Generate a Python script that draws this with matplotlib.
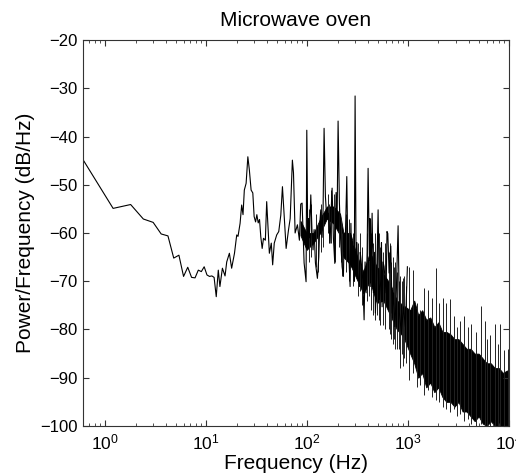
"""
Microwave oven - power spectral density (Welch PSD style plot, MATLAB look).
Saves out.png (516x474 px).
"""
import matplotlib
matplotlib.use("Agg")
import matplotlib.pyplot as plt

# ---------------------------------------------------------------
# data
# ---------------------------------------------------------------
# main trace, 0.6 Hz .. ~1 kHz
freq_hz = [
    0.60, 1.20, 1.79, 2.39, 2.99, 3.59, 4.19, 4.78, 5.38, 5.98,
    6.58, 7.18, 7.77, 8.37, 8.97, 9.57, 10.2, 10.8, 11.4, 12.0,
    12.6, 13.2, 13.7, 14.5, 15.4, 16.0, 17.0, 17.9, 19.1, 20.1,
    20.7, 21.7, 22.5, 23.2, 23.9, 24.9, 25.9, 26.8, 27.9, 29.0,
    29.9, 30.9, 31.8, 32.8, 33.8, 34.8, 35.9, 37.0, 38.6, 39.8,
    41.0, 42.3, 44.2, 45.6, 47.3, 50.0, 52.4, 54.9, 57.0, 59.3,
    62.0, 65.4, 68.0, 71.5, 73.3, 76.1, 80.2, 83.9, 86.5, 89.2,
    93.4, 97.7, 99.3, 101.6, 103.5, 105.4, 108.8, 112.1, 114.5, 117.3,
    120.9, 126.5, 130.6, 133.5, 136.6, 140.8, 144.0, 147.3, 151.8, 156.7,
    162.5, 168.9, 172.5, 176.8, 182.1, 188.0, 193.7, 198.0, 202.7, 208.9,
    215.6, 222.1, 228.8, 233.0, 237.8, 247.2, 251.5, 256.4, 266.6, 271.5,
    277.1, 287.3, 293.0, 298.7, 305.6, 311.5, 317.7, 329.5, 336.0, 342.5,
    356.0, 366.8, 375.0, 383.9, 393.0, 401.8, 413.9, 419.0, 427.3, 440.2,
    453.4, 464.0, 474.6, 489.9, 504.7, 519.8, 536.7, 545.0, 552.9, 565.0,
    578.7, 605.7, 618.0, 629.6, 648.6, 674.3, 694.6, 715.5, 738.6, 760.8,
    796.2, 820.2, 858.5, 898.5, 940.4, 984.2,
]
psd_db = [
    -44.7, -54.9, -54.1, -57.1, -57.8, -60.2, -60.6, -65.2, -64.6, -69.0,
    -67.1, -69.2, -69.3, -67.7, -68.0, -67.0, -68.7, -69.0, -68.9, -69.2,
    -73.2, -67.7, -71.1, -67.3, -68.9, -66.0, -64.2, -67.3, -64.2, -60.4,
    -60.7, -58.0, -54.2, -56.2, -51.1, -49.7, -44.2, -46.9, -51.1, -51.7,
    -56.6, -57.7, -56.2, -57.9, -57.2, -60.8, -63.2, -61.1, -61.5, -53.5,
    -58.7, -64.2, -62.1, -66.6, -62.1, -60.4, -59.7, -56.3, -50.4, -56.6,
    -63.2, -59.4, -57.0, -44.9, -47.5, -60.0, -58.3, -61.5, -54.0, -53.8,
    -66.2, -70.1, -38.7, -62.2, -57.0, -61.0, -52.1, -60.3, -63.5, -59.3,
    -66.2, -69.4, -65.0, -58.0, -55.2, -60.9, -55.0, -38.3, -52.4, -57.2,
    -55.9, -62.1, -56.0, -50.7, -61.0, -66.3, -51.6, -58.0, -36.8, -53.8,
    -62.1, -67.0, -69.0, -60.0, -63.3, -48.3, -60.0, -62.7, -71.1, -58.0,
    -67.0, -62.7, -70.0, -31.6, -65.7, -62.0, -68.3, -71.1, -64.0, -65.7,
    -69.7, -78.0, -66.0, -72.4, -64.0, -46.6, -65.7, -57.0, -71.1, -55.9,
    -72.4, -64.0, -76.6, -68.3, -55.2, -73.8, -69.7, -62.0, -75.3, -66.0,
    -67.0, -72.4, -59.7, -60.1, -68.3, -62.7, -76.6, -72.4, -79.4, -73.8,
    -58.5, -76.6, -80.8, -75.3, -79.4, -67.0,
]

# dark core of the dense spectrum (upper / lower edge of the solid black part)
band_hz = [
    86, 99, 116, 135, 157, 182, 212, 229, 267, 309,
    360, 419, 490, 569, 664, 775, 898, 1048, 1150, 1260,
    1380, 1513, 1659, 1820, 1995, 2187, 2398, 2628, 2880, 3157,
    3462, 3795, 4163, 4563, 5003, 5486, 6015, 6594, 7230, 7926,
    8692, 9530, 10000,
]
band_top_db = [
    -57.5, -60.0, -60.0, -57.0, -54.5, -54.5, -56.0, -60.0, -60.0, -64.5,
    -68.0, -64.0, -67.0, -68.5, -70.5, -74.0, -75.0, -76.0, -74.0, -77.0,
    -76.0, -78.0, -77.5, -79.5, -78.5, -80.5, -80.5, -81.0, -82.0, -82.0,
    -83.0, -84.0, -84.0, -85.0, -85.0, -86.0, -87.0, -87.0, -88.0, -88.0,
    -89.0, -88.5, -88.5,
]
band_bottom_db = [
    -60.5, -63.5, -62.0, -60.0, -57.0, -58.0, -60.5, -65.0, -66.5, -69.5,
    -72.5, -70.0, -74.5, -74.0, -77.0, -80.0, -81.5, -85.0, -87.0, -90.0,
    -89.0, -92.0, -91.0, -93.0, -92.0, -94.0, -95.0, -95.0, -96.0, -95.0,
    -97.0, -97.0, -98.0, -99.0, -98.0, -99.5, -100.0, -99.0, -100.0, -100.0,
    -100.0, -100.0, -100.0,
]

# individual lines sticking out of the dark core
spike_hz = [
    104, 110, 122, 128, 138, 143, 160, 166, 174, 185,
    190, 205, 218, 224, 242, 260, 283, 290, 320, 335,
    350, 388, 408, 432, 447, 470, 496, 512, 530, 558,
    590, 640, 660, 685, 705, 725, 750, 780, 810, 870,
    920, 960,
    833, 898, 1014, 1113, 1218, 1323, 1442, 1558, 1716, 1883,
    2038, 2209, 2387, 2628, 2839, 3050, 3258, 3577, 3876, 4229,
    4680, 5240, 5745, 6100, 6513, 7230, 7700, 8176, 8975, 9858,
]
spike_high_db = [
    -55.0, -54.0, -56.0, -58.0, -54.0, -56.0, -52.0, -54.0, -51.0, -52.0,
    -55.0, -54.0, -57.0, -60.0, -56.0, -57.0, -60.0, -58.0, -62.0, -60.0,
    -63.0, -60.0, -58.0, -60.0, -62.0, -60.0, -62.0, -60.0, -63.0, -64.0,
    -62.0, -64.0, -62.0, -66.0, -65.0, -67.0, -66.0, -68.0, -70.0, -70.0,
    -69.0, -71.0,
    -69.0, -69.4, -67.0, -67.7, -74.6, -75.9, -71.5, -71.8, -73.5, -67.3,
    -74.6, -73.5, -74.6, -73.7, -77.2, -79.5, -78.2, -77.2, -79.4, -78.8,
    -80.5, -75.1, -78.2, -82.0, -81.2, -78.8, -83.0, -78.8, -84.3, -84.0,
]
spike_low_db = [
    -66.0, -65.0, -67.0, -68.0, -64.0, -63.0, -60.0, -62.0, -62.0, -64.0,
    -66.0, -63.0, -66.0, -69.0, -68.0, -70.0, -71.0, -70.0, -73.0, -72.0,
    -75.0, -74.0, -73.0, -76.0, -77.0, -78.0, -77.0, -78.0, -79.0, -79.0,
    -80.0, -80.0, -81.0, -82.0, -83.0, -82.0, -84.0, -84.0, -84.0, -85.0,
    -86.0, -87.0,
    -88.0, -87.5, -90.5, -89.0, -92.0, -91.5, -93.5, -92.5, -94.0, -94.6,
    -95.0, -96.0, -96.5, -97.0, -96.5, -98.0, -97.5, -99.0, -98.5, -99.5,
    -100.0, -99.5, -100.0, -100.0, -100.0, -100.0, -100.0, -100.0, -100.0, -100.0,
]

TITLE = "Microwave oven"
XLABEL = "Frequency (Hz)"
YLABEL = "Power/Frequency (dB/Hz)"

# ---------------------------------------------------------------
# style: Helvetica-ish, MATLAB-like ticks
# ---------------------------------------------------------------
plt.rcParams["font.family"] = ["Liberation Sans", "DejaVu Sans"]
plt.rcParams["mathtext.fontset"] = "custom"
plt.rcParams["mathtext.rm"] = "Liberation Sans"
plt.rcParams["mathtext.it"] = "Liberation Sans:italic"
plt.rcParams["mathtext.default"] = "regular"

fig = plt.figure(figsize=(5.16, 4.74), dpi=100)
ax = fig.add_axes([0.160, 0.1013, 0.8266, 0.8143])

ax.fill_between(band_hz, band_bottom_db, band_top_db, color="black", linewidth=0.6)
ax.vlines(spike_hz, spike_low_db, spike_high_db, color="#222222", linewidth=0.7)
ax.plot(freq_hz, psd_db, color="black", linewidth=0.8)

ax.set_xscale("log")
ax.set_xlim(0.598, 10000)
ax.set_ylim(-100, -20)
ax.set_yticks(range(-100, -19, 10))

ax.set_title(TITLE, fontsize=15, pad=10)
ax.set_xlabel(XLABEL, fontsize=15, labelpad=1)
ax.set_ylabel(YLABEL, fontsize=15, labelpad=4)

for side in ax.spines.values():
    side.set_color("#333333")
    side.set_linewidth(0.8)
ax.tick_params(which="both", direction="in", top=True, right=True,
               colors="#333333", labelcolor="black")
ax.tick_params(which="major", length=4, width=0.8, labelsize=12)
ax.tick_params(axis="x", which="major", labelsize=12.5, pad=5)
ax.tick_params(which="minor", length=2, width=0.6)

fig.savefig("out.png", dpi=100)
plt.close(fig)
